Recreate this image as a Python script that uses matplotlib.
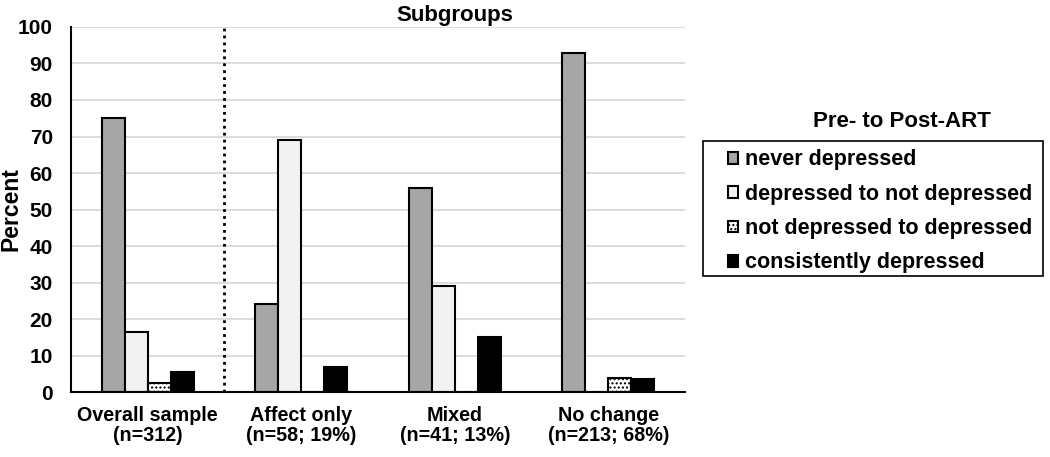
import numpy as np
import matplotlib.pyplot as plt
from matplotlib.patches import Rectangle

plt.rcParams['font.family'] = ['Liberation Sans', 'DejaVu Sans']
plt.rcParams['font.weight'] = 'bold'
plt.rcParams['hatch.linewidth'] = 1.0

# data
groups = ["Overall sample\n(n=312)", "Affect only\n(n=58; 19%)",
          "Mixed\n(n=41; 13%)", "No change\n(n=213; 68%)"]
series = ["never depressed", "depressed to not depressed",
          "not depressed to depressed", "consistently depressed"]
never_dep = [75, 24, 56, 93]
dep_to_not = [16.5, 69, 29, 0]
not_to_dep = [2.5, 0, 0, 4]
consist_dep = [5.5, 7, 15, 3.5]

values = [never_dep, dep_to_not, not_to_dep, consist_dep]
colors = ["#a6a6a6", "#f2f2f2", "white", "black"]
hatches = [None, None, "....", None]

fig = plt.figure(figsize=(10.5, 4.57), dpi=100)
ax = fig.add_axes([0.0676, 0.142, 0.5848, 0.799])

x = np.arange(len(groups))
w = 0.15
for i, (vals, c, h) in enumerate(zip(values, colors, hatches)):
    pos = x + (i - 1.5) * w
    ax.bar(pos, vals, w, color=c, edgecolor="black", linewidth=1.5,
           hatch=h, label=series[i], zorder=3)

ax.set_xlim(-0.5, 3.5)
ax.set_ylim(0, 100)
ax.set_yticks(range(0, 101, 10))
ax.grid(axis="y", color="#d9d9d9", linewidth=1.3, zorder=0)
ax.set_xticks(x)
ax.set_xticklabels(groups, fontsize=14.2, fontweight="bold", linespacing=1.1)
ax.tick_params(axis="y", labelsize=15, length=0, pad=13)
ax.tick_params(axis="x", length=0, pad=10)
for s in ["top", "right"]:
    ax.spines[s].set_visible(False)
ax.spines["left"].set_linewidth(1.5)
ax.spines["bottom"].set_linewidth(1.5)
ax.spines["bottom"].set_zorder(4)

# separator between overall sample and subgroups
ax.axvline(0.5, color="black", linestyle=(0, (1, 1.5)), linewidth=2, zorder=2)

ax.set_ylabel("Percent", fontsize=16.5, fontweight="bold")
ax.yaxis.set_label_coords(-0.079, 0.5)
ax.text(2.0, 1.032, "Subgroups", transform=ax.get_xaxis_transform(),
        fontsize=16, fontweight="bold", ha="center", va="center")

# legend
fig.patches.append(Rectangle((0.6695, 0.396), 0.3238, 0.296, transform=fig.transFigure,
                             fill=False, edgecolor="black", linewidth=1.2))
leg = fig.legend(loc="upper left", bbox_to_anchor=(0.6933, 0.673),
                 fontsize=15.5, frameon=False, borderpad=0, borderaxespad=0,
                 handlelength=0.45, handleheight=0.45, handletextpad=0.35,
                 labelspacing=0.62)
fig.text(0.859, 0.735, "Pre- to Post-ART", fontsize=16, fontweight="bold",
         ha="center", va="center")

fig.savefig("out.png", dpi=100)
